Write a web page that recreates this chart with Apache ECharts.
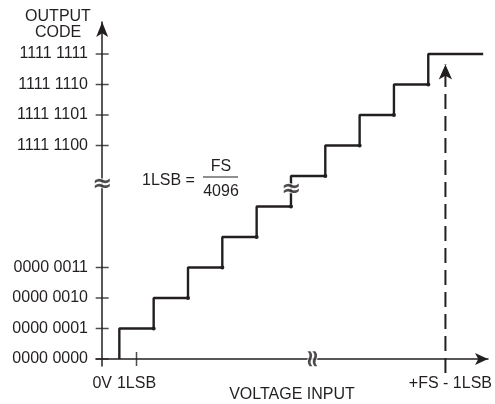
<!DOCTYPE html>
<html lang="en" style="height: 100%">
<head>
  <meta charset="utf-8">
</head>
<body style="height: 100%; margin: 0; background: #fff">
  <div id="container" style="width: 495px; height: 404px"></div>

  <script type="text/javascript" src="https://fastly.jsdelivr.net/npm/echarts@6/dist/echarts.min.js"></script>

  <script type="text/javascript">
    // transfer function, x in LSB, y in code steps (axis is broken between 5 and 6)
    var stepX = [0.5, 1.5, 2.5, 3.5, 4.5, 5.5, 6.5, 7.5, 8.5, 9.5, 11.1];
    var stepY = [0, 1, 2, 3, 4, 5, 6, 7, 8, 9, 10];

    var yTickValues = [0, 1, 2, 3, 7, 8, 9, 10];
    var yTickLabels = ['0000 0000', '0000 0001', '0000 0010', '0000 0011',
                       '1111 1100', '1111 1101', '1111 1110', '1111 1111'];

    var xTickValues = [0, 1, 10];
    var xTickLabels = ['0V', '1LSB', '+FS - 1LSB'];

    var fsLineX = [10, 10];
    var fsLineY = [-0.46, 9.66];

    // break marks: [x, y, rotate]
    var breakMarks = [[0, 5.7, 0], [5.5, 5.55, 0], [6.15, 0, 90]];

    var ink = '#231f20';
    var font = 'Liberation Sans, Arial, sans-serif';
    var fs = 16;

    var dom = document.getElementById('container');
    var myChart = echarts.init(dom, null, { renderer: 'canvas' });
    var option;

    var stepData = stepX.map(function (x, i) {
      var item = { value: [x, stepY[i]] };
      if (i === 0 || i === stepX.length - 1) item.symbol = 'none';
      return item;
    });

    option = {
      animation: false,
      backgroundColor: '#fff',
      grid: { left: 96, right: 7, top: 22, bottom: 38, outerBoundsMode: 'none', containLabel: false },
      xAxis: {
        type: 'value',
        min: -0.18,
        max: 11.24,
        name: 'VOLTAGE INPUT',
        nameLocation: 'middle',
        nameGap: 21,
        nameMoveOverlap: false,
        nameTextStyle: { color: ink, fontSize: fs, fontFamily: font },
        axisLine: {
          onZero: true,
          symbol: ['none', 'arrow'],
          symbolSize: [9, 13],
          lineStyle: { color: ink, width: 1.5 }
        },
        axisTick: { show: false },
        splitLine: { show: false },
        axisLabel: {
          customValues: xTickValues,
          margin: 10,
          color: ink,
          fontSize: fs,
          fontFamily: font,
          formatter: function (v) {
            var i = xTickValues.indexOf(v);
            if (i < 0) return '';
            return i === 2 ? '{r|' + xTickLabels[i] + '}' : xTickLabels[i];
          },
          rich: { r: { fontSize: fs, fontFamily: font, color: ink, padding: [0, 0, 0, 10] } }
        }
      },
      yAxis: {
        type: 'value',
        min: -0.23,
        max: 11.05,
        axisLine: {
          onZero: true,
          symbol: ['none', 'arrow'],
          symbolSize: [9, 15],
          lineStyle: { color: ink, width: 1.5 }
        },
        axisTick: { show: false },
        splitLine: { show: false },
        axisLabel: {
          customValues: yTickValues,
          margin: 8,
          color: ink,
          fontSize: fs,
          fontFamily: font,
          formatter: function (v) {
            var i = yTickValues.indexOf(v);
            return i < 0 ? '' : yTickLabels[i];
          }
        }
      },
      graphic: [
        {
          type: 'text', x: 58, y: 9,
          style: { text: 'OUTPUT\nCODE', fill: ink, font: fs + 'px ' + font, textAlign: 'center', lineHeight: 16 }
        },
        {
          type: 'text', x: 142, y: 181,
          style: { text: '1LSB =', fill: ink, font: fs + 'px ' + font, textVerticalAlign: 'middle' }
        },
        {
          type: 'text', x: 221, y: 167,
          style: { text: 'FS', fill: ink, font: fs + 'px ' + font, textAlign: 'center', textVerticalAlign: 'middle' }
        },
        {
          type: 'line', shape: { x1: 203, y1: 177, x2: 238, y2: 177 },
          style: { stroke: ink, lineWidth: 1.2 }
        },
        {
          type: 'text', x: 221, y: 192,
          style: { text: '4096', fill: ink, font: fs + 'px ' + font, textAlign: 'center', textVerticalAlign: 'middle' }
        }
      ],
      series: [
        {
          name: 'ticksY',
          type: 'scatter',
          symbol: 'rect',
          symbolSize: [13, 1.5],
          itemStyle: { color: ink },
          silent: true,
          data: yTickValues.map(function (v) { return [0, v]; })
        },
        {
          name: 'ticksX',
          type: 'scatter',
          symbol: 'rect',
          symbolSize: [1.5, 14],
          itemStyle: { color: ink },
          silent: true,
          data: [[xTickValues[1], 0]]
        },
        {
          name: 'transfer',
          type: 'line',
          step: 'start',
          symbol: 'circle',
          symbolSize: 4,
          showAllSymbol: true,
          lineStyle: { color: ink, width: 2.4 },
          itemStyle: { color: ink },
          data: stepData
        },
        {
          name: 'fs',
          type: 'line',
          clip: false,
          lineStyle: { color: ink, width: 2, type: [15, 7] },
          itemStyle: { color: ink },
          data: [
            { value: [fsLineX[0], fsLineY[0]], symbol: 'none' },
            { value: [fsLineX[1], fsLineY[1]], symbol: 'arrow', symbolSize: [10, 15] }
          ]
        },
        {
          name: 'breaks',
          type: 'scatter',
          symbolSize: 0,
          silent: true,
          z: 5,
          data: breakMarks.map(function (b) {
            return {
              value: [b[0], b[1]],
              label: { rotate: b[2] }
            };
          }),
          label: {
            show: true,
            position: 'inside',
            formatter: '\u2248',
            color: ink,
            fontSize: 24,
            fontWeight: 'bold',
            fontFamily: 'DejaVu Sans',
            textBorderColor: '#fff',
            textBorderWidth: 2
          }
        }
      ]
    };

    if (option && typeof option === 'object') {
      myChart.setOption(option);
    }

    window.addEventListener('resize', myChart.resize);
  </script>
</body>
</html>
